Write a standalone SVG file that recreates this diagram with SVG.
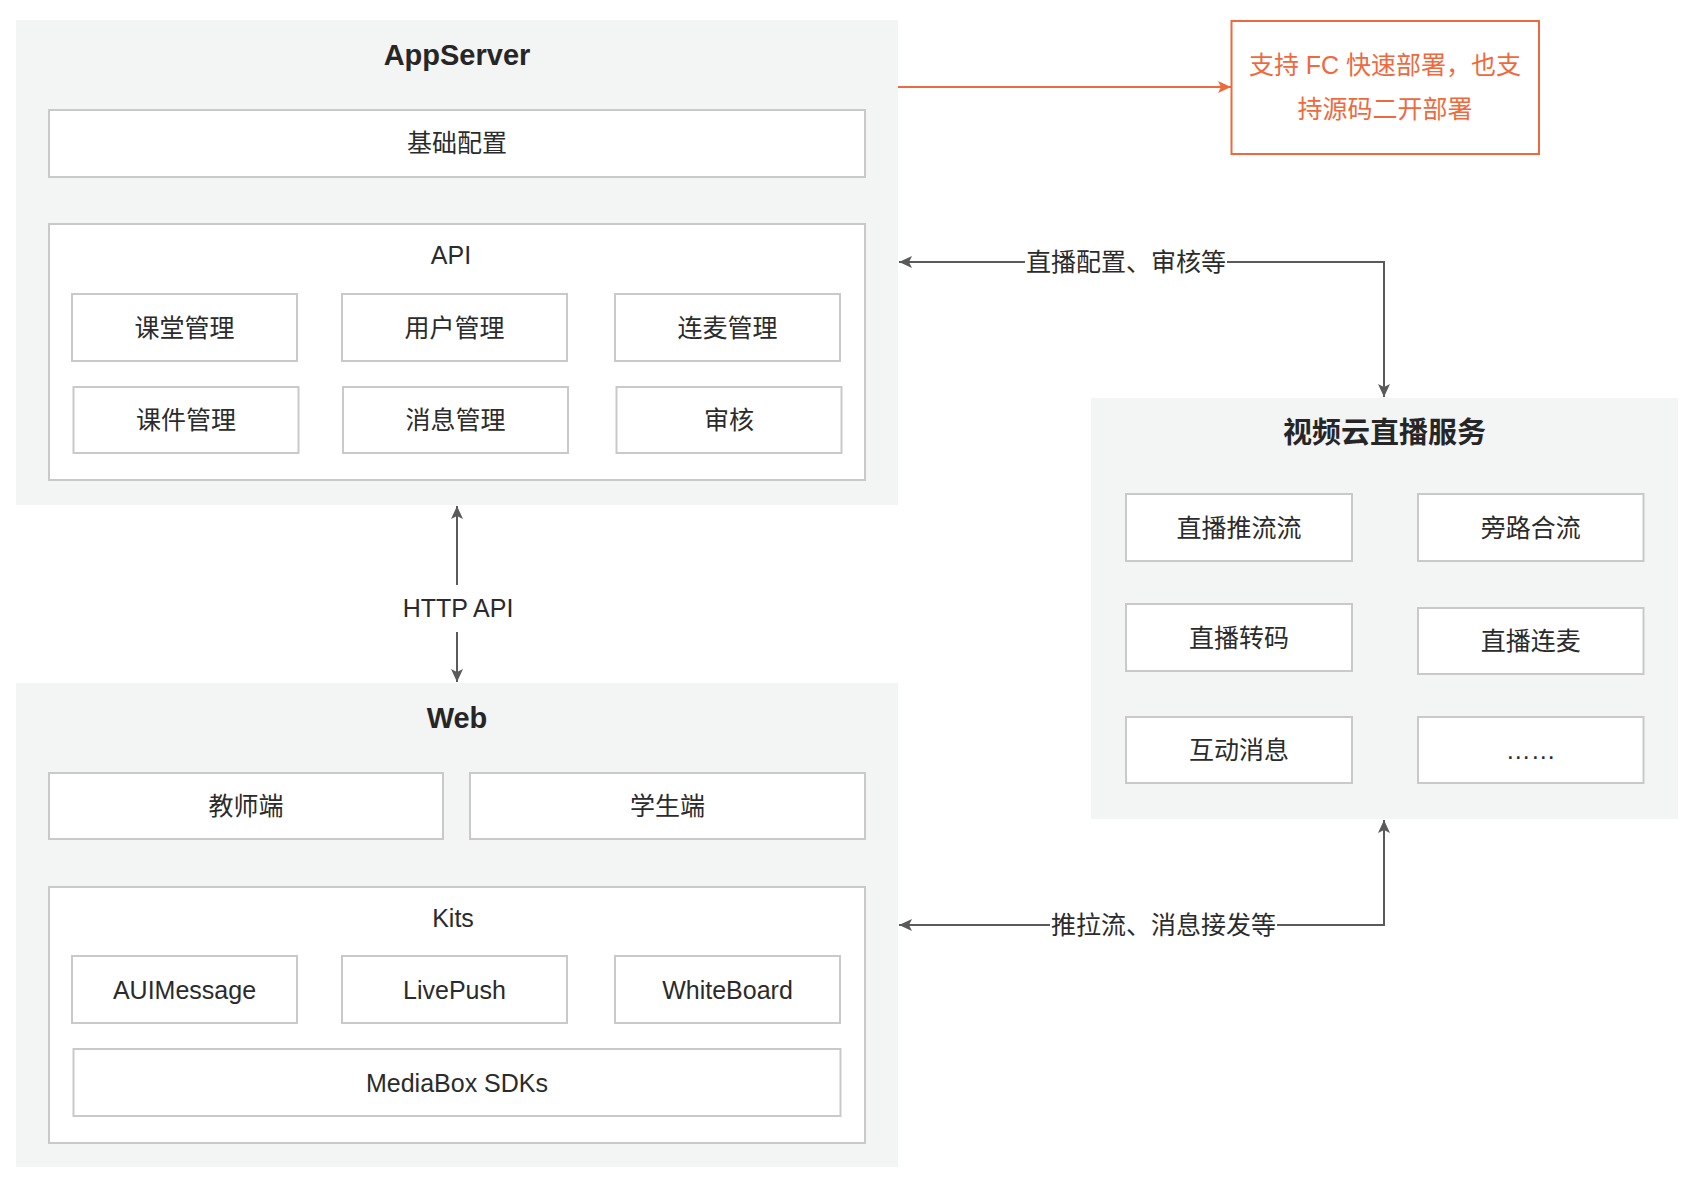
<svg xmlns="http://www.w3.org/2000/svg" width="1696" height="1184" viewBox="0 0 1696 1184">
<style>
.grp{fill:#f3f4f4;stroke:none}
.box{fill:#ffffff;stroke:#c9c9c9;stroke-width:2}
.t{font-family:"Liberation Sans","Noto Sans CJK SC",sans-serif;font-size:25px;fill:#2b2b2b;text-anchor:middle;dominant-baseline:central}
.title{font-weight:bold;font-size:29px;fill:#262626}
.orange{fill:#ee6a3e}
.line{fill:none;stroke:#5a5a5a;stroke-width:2}
.oline{fill:none;stroke:#ee6a3e;stroke-width:2}
</style>
<defs>
<marker id="ah" markerUnits="userSpaceOnUse" markerWidth="14" markerHeight="12" refX="13" refY="6" orient="auto">
<path d="M0,0 L13,6 L0,12 L3,6 Z" fill="#5a5a5a"/>
</marker>
<marker id="aho" markerUnits="userSpaceOnUse" markerWidth="14" markerHeight="12" refX="13" refY="6" orient="auto">
<path d="M0,0 L13,6 L0,12 L3,6 Z" fill="#ee6a3e"/>
</marker>
</defs>
<rect x="0" y="0" width="1696" height="1184" fill="#ffffff"/>

<g id="appserver">
<rect class="grp" x="16" y="20" width="882" height="485"/>
<text class="t title" x="457" y="55">AppServer</text>
</g>
<g id="base-config">
<rect class="box" x="49" y="110" width="816" height="67"/>
<text class="t" x="457" y="143">基础配置</text>
</g>
<g id="api">
<rect class="box" x="49" y="224" width="816" height="256"/>
<text class="t" x="451" y="255">API</text>
</g>
<g id="api-classroom"><rect class="box" x="72" y="294" width="225" height="67"/><text class="t" x="184.5" y="327.5">课堂管理</text></g>
<g id="api-user"><rect class="box" x="342" y="294" width="225" height="67"/><text class="t" x="454.5" y="327.5">用户管理</text></g>
<g id="api-mic"><rect class="box" x="615" y="294" width="225" height="67"/><text class="t" x="727.5" y="327.5">连麦管理</text></g>
<g id="api-courseware"><rect class="box" x="73.5" y="387" width="225" height="66"/><text class="t" x="186" y="420">课件管理</text></g>
<g id="api-message"><rect class="box" x="343" y="387" width="225" height="66"/><text class="t" x="455.5" y="420">消息管理</text></g>
<g id="api-audit"><rect class="box" x="616.5" y="387" width="225" height="66"/><text class="t" x="729" y="420">审核</text></g>

<g id="web">
<rect class="grp" x="16" y="683" width="882" height="484"/>
<text class="t title" x="457" y="718">Web</text>
</g>
<g id="web-teacher"><rect class="box" x="49" y="773" width="394" height="66"/><text class="t" x="246" y="806">教师端</text></g>
<g id="web-student"><rect class="box" x="470" y="773" width="395" height="66"/><text class="t" x="667.5" y="806">学生端</text></g>
<g id="kits">
<rect class="box" x="49" y="887" width="816" height="256"/>
<text class="t" x="453" y="918">Kits</text>
</g>
<g id="kit-aui"><rect class="box" x="72" y="956" width="225" height="67"/><text class="t" x="184.5" y="989.5">AUIMessage</text></g>
<g id="kit-livepush"><rect class="box" x="342" y="956" width="225" height="67"/><text class="t" x="454.5" y="989.5">LivePush</text></g>
<g id="kit-whiteboard"><rect class="box" x="615" y="956" width="225" height="67"/><text class="t" x="727.5" y="989.5">WhiteBoard</text></g>
<g id="kit-mediabox"><rect class="box" x="73.5" y="1049" width="767" height="67"/><text class="t" x="457" y="1082.5">MediaBox SDKs</text></g>

<g id="fc-note">
<rect x="1231.5" y="21" width="307.5" height="133" fill="#ffffff" stroke="#ee6a3e" stroke-width="2"/>
<text class="t orange" x="1385" y="65">支持 FC 快速部署，也支</text>
<text class="t orange" x="1385" y="109">持源码二开部署</text>
</g>

<g id="live-service">
<rect class="grp" x="1091" y="398" width="587" height="421"/>
<text class="t title" x="1384.5" y="433">视频云直播服务</text>
</g>
<g id="ls-push"><rect class="box" x="1126" y="494" width="226" height="67"/><text class="t" x="1239" y="527.5">直播推流流</text></g>
<g id="ls-bypass"><rect class="box" x="1418" y="494" width="225.5" height="67"/><text class="t" x="1530.75" y="527.5">旁路合流</text></g>
<g id="ls-transcode"><rect class="box" x="1126" y="604" width="226" height="67"/><text class="t" x="1239" y="637.5">直播转码</text></g>
<g id="ls-mic"><rect class="box" x="1418" y="608" width="225.5" height="66"/><text class="t" x="1530.75" y="641">直播连麦</text></g>
<g id="ls-im"><rect class="box" x="1126" y="717" width="226" height="66"/><text class="t" x="1239" y="750">互动消息</text></g>
<g id="ls-more"><rect class="box" x="1418" y="717" width="225.5" height="66"/><text class="t" x="1530.75" y="750">……</text></g>

<g id="connectors">
<line class="oline" x1="898" y1="87" x2="1231" y2="87" marker-end="url(#aho)"/>

<line class="line" x1="457" y1="585" x2="457" y2="506" marker-end="url(#ah)"/>
<line class="line" x1="457" y1="632" x2="457" y2="682" marker-end="url(#ah)"/>
<text class="t" x="458" y="608">HTTP API</text>

<polyline class="line" points="1025,262 899,262" marker-end="url(#ah)"/>
<polyline class="line" points="1227,262 1384,262 1384,397" marker-end="url(#ah)"/>
<text class="t" x="1126" y="262">直播配置、审核等</text>

<polyline class="line" points="1050,925 899,925" marker-end="url(#ah)"/>
<polyline class="line" points="1277,925 1384,925 1384,820" marker-end="url(#ah)"/>
<text class="t" x="1163.5" y="925">推拉流、消息接发等</text>
</g>
</svg>
